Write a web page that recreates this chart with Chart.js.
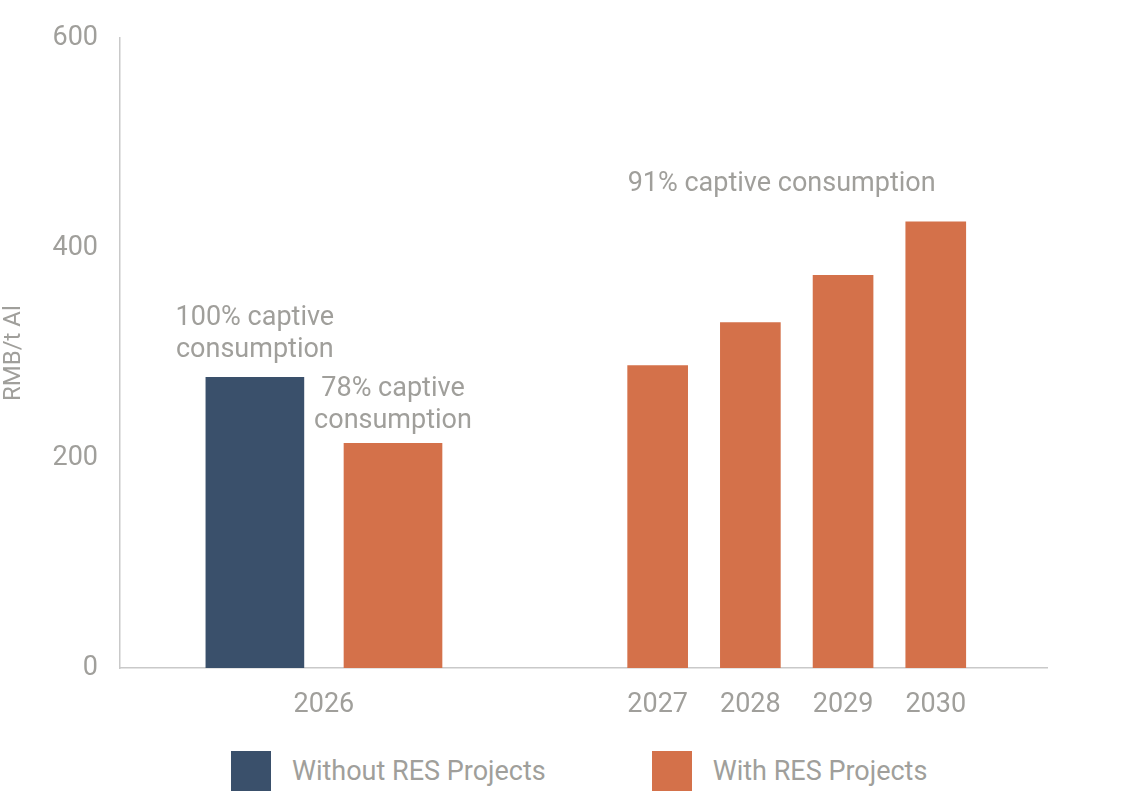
<!DOCTYPE html>
<html>
<head>
<meta charset="utf-8">
<title>RMB/t Al</title>
<script src="https://cdn.jsdelivr.net/npm/chart.js@4.4.0/dist/chart.umd.min.js"></script>
<style>
    body { margin: 0; background: #fff; font-family: Roboto, sans-serif; }
    #wrap { position: relative; width: 1132px; height: 730px; }
    #legend { display: flex; align-items: center; padding-left: 231px; margin-top: 21px; }
    #legend .item { display: flex; align-items: center; margin-right: 106px; }
    #legend .box { width: 40px; height: 40px; margin-right: 21px; }
    #legend .txt { font-size: 27px; color: #a09f9b; }
</style>
</head>
<body>
<div id="wrap"><canvas id="costChart"></canvas></div>
<div id="legend"></div>
<script>
// data
const years = ['2026', '2027', '2028', '2029', '2030'];
const withoutRes = [277, null, null, null, null];
const withRes = [214, 288, 329, 374, 425];
const yTicks = [0, 200, 400, 600];
const notes = [
    ['100% captive', 'consumption'],
    ['78% captive', 'consumption'],
    ['91% captive consumption']
];

const navy = '#3a506b';
const orange = '#d4714a';
const grey = '#a09f9b';
const axisGrey = '#c9c9c9';
const font = 'Roboto';

// layout of the x axis (0..10): 2026 holds a pair of wide bars, then a gap, then 2027-2030
const groupCenters = [2.2, 5.8, 6.8, 7.8, 8.8];
const pairOffset = 0.745;

const laterYears = years.slice(1);
const datasets = [
    {
        label: 'Without RES Projects',
        data: [{x: groupCenters[0] - pairOffset, y: withoutRes[0]}],
        backgroundColor: navy,
        barThickness: 98
    },
    {
        label: 'With RES Projects',
        data: [{x: groupCenters[0] + pairOffset, y: withRes[0]}],
        backgroundColor: orange,
        barThickness: 98
    },
    {
        label: 'With RES Projects (2027-2030)',
        data: laterYears.map((yr, i) => ({x: groupCenters[i + 1], y: withRes[i + 1]})),
        backgroundColor: orange,
        barThickness: 60
    }
];

const captiveLabels = {
    id: 'captiveLabels',
    afterDatasetsDraw(chart) {
        const ctx = chart.ctx;
        const b0 = chart.getDatasetMeta(0).data[0];
        const b1 = chart.getDatasetMeta(1).data[0];
        const later = chart.getDatasetMeta(2).data;
        const lineH = 32;

        ctx.save();
        ctx.font = '27px ' + font;
        ctx.fillStyle = grey;
        ctx.textBaseline = 'middle';
        ctx.textAlign = 'center';

        // two-line notes sitting on the 2026 bars
        [[notes[0], b0, 27], [notes[1], b1, 22]].forEach(([lines, bar, gap]) => {
            lines.forEach((txt, i) => {
                ctx.fillText(txt, bar.x, bar.y - gap - (lines.length - 1 - i) * lineH);
            });
        });

        // one line over the 2027-2030 bars, starting at the 2027 bar edge
        const first = later[0];
        const last = later[later.length - 1];
        ctx.textAlign = 'left';
        ctx.fillText(notes[2][0], first.x - first.width / 2, last.y - 38);
        ctx.restore();
    }
};

const chart = new Chart(document.getElementById('costChart'), {
    type: 'bar',
    data: {datasets: datasets},
    options: {
        responsive: true,
        maintainAspectRatio: false,
        animation: false,
        datasets: {
            bar: {grouped: false}
        },
        layout: {
            padding: {top: 38, right: 85, bottom: 0, left: 0}
        },
        scales: {
            x: {
                type: 'linear',
                min: 0,
                max: 10,
                offset: false,
                grid: {display: false, drawTicks: false},
                border: {color: axisGrey, width: 1.5},
                afterBuildTicks: function (scale) {
                    scale.ticks = groupCenters.map(v => ({value: v}));
                },
                afterFit: function (scale) {
                    scale.height = 62;
                },
                ticks: {
                    autoSkip: false,
                    maxRotation: 0,
                    padding: 21,
                    color: grey,
                    font: {family: font, size: 27},
                    callback: function (value, index) {
                        return years[index];
                    }
                }
            },
            y: {
                min: 0,
                max: 600,
                grid: {display: false, drawTicks: false},
                border: {color: axisGrey, width: 1.5},
                afterBuildTicks: function (scale) {
                    scale.ticks = yTicks.map(v => ({value: v}));
                },
                afterFit: function (scale) {
                    scale.width = 120;
                },
                ticks: {
                    padding: 22,
                    color: grey,
                    font: {family: font, size: 27}
                },
                title: {
                    display: true,
                    text: 'RMB/t Al',
                    color: grey,
                    font: {family: font, size: 24},
                    padding: {top: 0, bottom: 0}
                }
            }
        },
        plugins: {
            legend: {display: false},
            tooltip: {enabled: false}
        }
    },
    plugins: [captiveLabels]
});

// html legend, one entry per series colour
const legendEl = document.getElementById('legend');
datasets.slice(0, 2).forEach(ds => {
    const item = document.createElement('div');
    item.className = 'item';
    const box = document.createElement('span');
    box.className = 'box';
    box.style.background = ds.backgroundColor;
    const txt = document.createElement('span');
    txt.className = 'txt';
    txt.textContent = ds.label;
    item.appendChild(box);
    item.appendChild(txt);
    legendEl.appendChild(item);
});
</script>
</body>
</html>
